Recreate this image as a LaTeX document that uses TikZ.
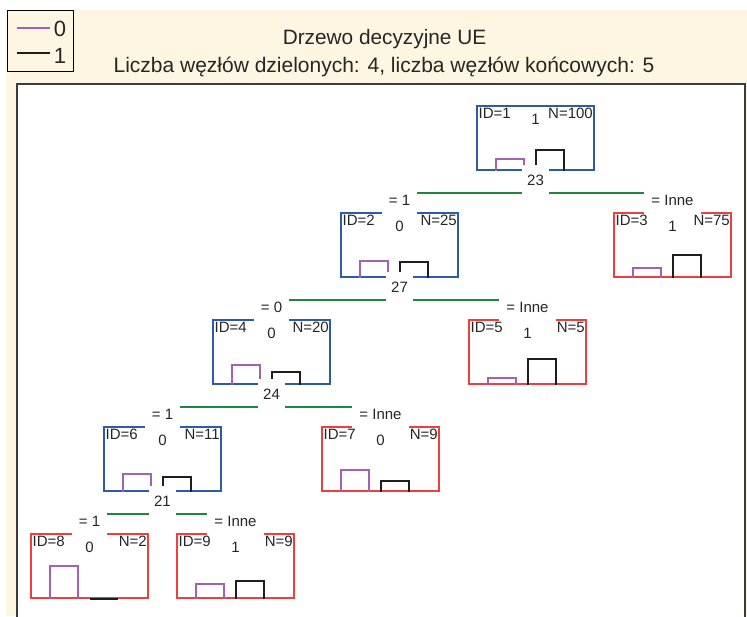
\documentclass[tikz,border=0pt]{standalone}
\usepackage{fontspec}
\setmainfont{Liberation Sans}
\usetikzlibrary{calc}
\definecolor{cream}{RGB}{253,246,226}
\definecolor{inblue}{RGB}{43,92,170}
\definecolor{leafred}{RGB}{240,62,62}
\definecolor{clsA}{RGB}{165,95,180}
\definecolor{clsB}{RGB}{30,30,30}
\definecolor{brgreen}{RGB}{30,135,60}
\definecolor{framec}{RGB}{60,60,60}
\definecolor{txt}{RGB}{38,38,38}
\tikzset{
  tbox/.style={draw, line width=2pt, minimum width=117pt, minimum height=64pt, inner sep=0pt, anchor=north},
  innerbox/.style={tbox, draw=inblue},
  leafbox/.style={tbox, draw=leafred},
  barA/.style={draw=clsA, line width=2pt},
  barB/.style={draw=clsB, line width=2pt},
  branch/.style={draw=brgreen, line width=2pt},
  lbl/.style={font=\fontsize{15}{18}\selectfont, text=txt, inner sep=0pt},
  elabel/.style={lbl, fill=white, text height=17.5pt, text depth=8.8pt, inner xsep=7pt, inner ysep=0pt, anchor=base},
  slabel/.style={lbl, fill=white, text height=20.5pt, text depth=10.5pt, inner xsep=5pt, inner ysep=0pt, anchor=base},
  titletext/.style={font=\fontsize{20.8}{24}\selectfont, text=txt, inner sep=0pt, anchor=base},
  subtext/.style={font=\fontsize{21}{24}\selectfont, text=txt, inner sep=0pt, anchor=base},
  legtext/.style={font=\fontsize{22}{26}\selectfont, text=txt, inner sep=0pt, anchor=base},
}
\newcommand\treenode[9]{%
  \node[#4] (#1) at (#2,#3) {};
  \node[lbl, anchor=base west] (#1id) at ($(#1.north west)+(2.5,13.5)$) {ID=#5};
  \node[lbl, anchor=base] (#1cl) at ($(#1.north)+(0,19.5)$) {#6};
  \node[lbl, anchor=base east] (#1n) at ($(#1.north east)+(-2,13.5)$) {N=#7};
  \draw[barA] ($(#1.south)+(-39.5,0)$) -- ++(0,-33*#8) -- ++(28,0) -- ++(0,33*#8);
  \draw[barB] ($(#1.south)+(0.5,0)$) -- ++(0,-33*#9) -- ++(28,0) -- ++(0,33*#9);
}
\newcommand\splitnode[6]{%
  \coordinate (#1s) at ($(#1.south)+(0,22)$);
  \draw[branch] (#1s -| #2.north) -- (#1s -| #3.north);
  \node[slabel] (#1v) at ($(#1.south)+(0,14.5)$) {#4};
  \node[elabel] (#2e) at ($(#2.north)+(0,-6.5)$) {#5};
  \node[elabel] (#3e) at ($(#3.north)+(0,-6.5)$) {#6};
}
\begin{document}
\begin{tikzpicture}[x=1pt,y=-1pt]
\useasboundingbox (0,0) rectangle (747,616);
\fill[white] (0,0) rectangle (747,616);
\fill[cream] (6,9.5) rectangle (747,616);
% legend
\draw[black, line width=1pt, fill=cream] (7.5,10.5) rectangle (73.5,71.5);
\coordinate (la1) at (17,28);
\coordinate (la2) at (50,28);
\coordinate (lb1) at (17,53);
\coordinate (lb2) at (50,53);
\draw[clsA, line width=1.5pt] (la1) -- (la2);
\draw[clsB, line width=1.5pt] (lb1) -- (lb2);
\node[legtext] (leg0) at (60,36.6) {0};
\node[legtext] (leg1) at (60,63) {1};
% titles
\node[titletext] (title) at (384.5,44) {Drzewo decyzyjne UE};
\node[subtext] (subtitle) at (384,72.7) {Liczba węzłów dzielonych: 4, liczba węzłów końcowych: 5};
% plot area
\fill[white] (17,84) rectangle (745,620);
\draw[framec, line width=2pt] (17,620) -- (17,84) -- (745,84) -- (745,620);
% nodes
\treenode{n1}{535.5}{105}{innerbox}{1}{1}{100}{0.35}{0.65}
\treenode{n2}{399.5}{212}{innerbox}{2}{0}{25}{0.52}{0.48}
\treenode{n3}{672.5}{212}{leafbox}{3}{1}{75}{0.293}{0.707}
\treenode{n4}{271.5}{319}{innerbox}{4}{0}{20}{0.6}{0.4}
\treenode{n5}{527.5}{319}{leafbox}{5}{1}{5}{0.2}{0.8}
\treenode{n6}{162.5}{426}{innerbox}{6}{0}{11}{0.545}{0.455}
\treenode{n7}{380.5}{426}{leafbox}{7}{0}{9}{0.667}{0.333}
\treenode{n8}{89.5}{533}{leafbox}{8}{0}{2}{1}{0}
\treenode{n9}{235.5}{533}{leafbox}{9}{1}{9}{0.444}{0.556}
% splits
\splitnode{n1}{n2}{n3}{23}{= 1}{= Inne}
\splitnode{n2}{n4}{n5}{27}{= 0}{= Inne}
\splitnode{n4}{n6}{n7}{24}{= 1}{= Inne}
\splitnode{n6}{n8}{n9}{21}{= 1}{= Inne}
\end{tikzpicture}
\end{document}
